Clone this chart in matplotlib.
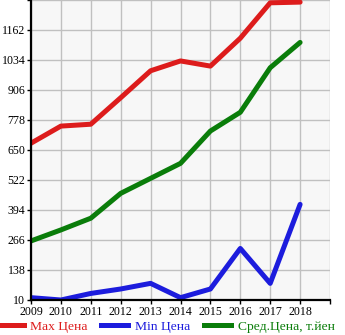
import numpy as np
import matplotlib
matplotlib.use("Agg")
from matplotlib import pyplot as plt
from matplotlib.lines import Line2D

years = [2009, 2010, 2011, 2012, 2013, 2014, 2015, 2016, 2017, 2018]
max_price = [679, 752, 760, 873, 988, 1030, 1008, 1127, 1278, 1281]
min_price = [20, 10, 38, 57, 81, 20, 57, 230, 81, 418]
avg_price = [262, 309, 359, 465, 529, 593, 731, 811, 1001, 1109]
yticks = [10, 138, 266, 394, 522, 650, 778, 906, 1034, 1162]
labels = ["Max Цена", "Min Цена", "Сред.Цена, т.йен"]
colors = ["#dd1c1c", "#1c1cdd", "#0a7d0a"]

plt.rcParams['font.family'] = ['Liberation Serif', 'DejaVu Serif']

fig = plt.figure(figsize=(3.45, 3.35), dpi=100)
ax = fig.add_axes([31/345, 35/335, 299/345, 300/335])
ax.set_facecolor("#f7f7f7")

for vals, c in zip([max_price, min_price, avg_price], colors):
    ax.plot(years, vals, color=c, lw=3.6, solid_capstyle='round', solid_joinstyle='round')

ax.set_xlim(2009, 2019)
ax.set_ylim(10, 1290)
ax.set_xticks(range(2009, 2020))
ax.set_xticklabels([str(y) for y in years] + [""])
ax.set_yticks(yticks + [1290])
ax.set_yticklabels([str(v) for v in yticks] + [""])
ax.grid(True, color="#c0c0c0", lw=1)
ax.set_axisbelow(True)
for s in ["top", "right"]:
    ax.spines[s].set_visible(False)
for s in ["left", "bottom"]:
    ax.spines[s].set_linewidth(1.6)
ax.tick_params(length=3, width=1, pad=1, labelsize=8.6)

handles = [Line2D([0], [0], color=c, lw=3.6) for c in colors]
leg = fig.legend(handles, labels, loc="lower left", bbox_to_anchor=(-0.025, -0.01),
                 ncol=3, frameon=False, handlelength=2.0, handletextpad=0.5,
                 columnspacing=1.0, fontsize=9.7, borderaxespad=0)
for t, c in zip(leg.get_texts(), colors):
    t.set_color(c)

fig.savefig("out.png", dpi=100)
